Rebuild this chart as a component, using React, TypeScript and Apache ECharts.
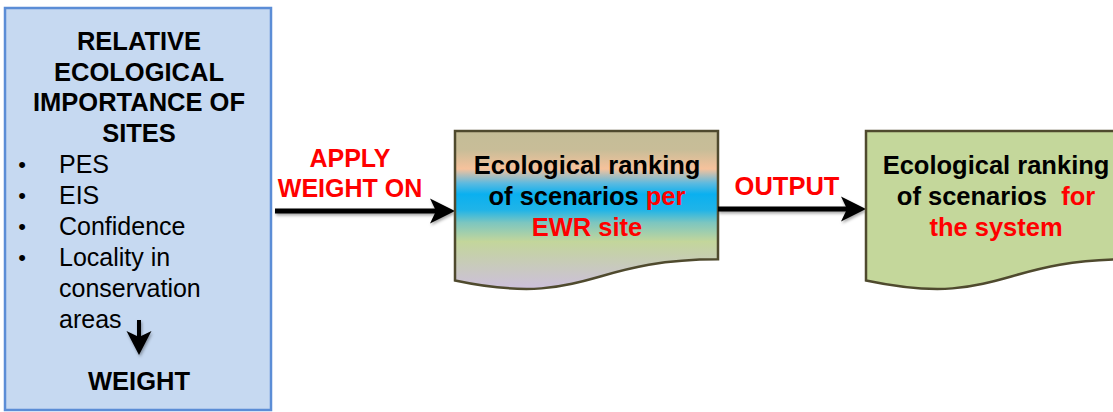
import React, { useEffect, useRef } from "react";
import * as echarts from "echarts";

// Texts of the diagram
const leftTitle = ["RELATIVE", "ECOLOGICAL", "IMPORTANCE OF", "SITES"];
const leftBullets = ["PES", "EIS", "Confidence", "Locality in"];
const leftBulletCont = ["conservation", "areas"];
const leftFooter = "WEIGHT";
const arrow1Label = ["APPLY", "WEIGHT ON"];
const arrow2Label = ["OUTPUT"];
const midBox = [
  "{k|Ecological ranking}",
  "{k|of scenarios} {r|per}",
  "{r|EWR site}",
];
const rightBox = [
  "{k|Ecological ranking}",
  "{k|of scenarios}  {r|for}",
  "{r|the system}",
];

const FONT = "'Liberation Sans', Arial, sans-serif";
const DOC_W = 263;
const DOC_H = 160;
// PowerPoint flowchart "document" shape
const docD = `M0,0 L${DOC_W},0 L${DOC_W},${DOC_H * 0.802} C${DOC_W / 2},${DOC_H * 0.802} ${DOC_W / 2},${DOC_H * 1.107} 0,${DOC_H * 0.934} Z`;

let registered = false;
function register() {
  if (registered) return;
  registered = true;
  echarts.graphic.registerShape("docShape", echarts.graphic.extendPath(docD, {}) as any);
}

const shadow = { shadowBlur: 3, shadowColor: "rgba(0,0,0,0.35)", shadowOffsetX: 1, shadowOffsetY: 2 };

function arrowRight(x1: number, x2: number, y: number): any[] {
  return [
    { type: "rect", shape: { x: x1, y: y - 2.5, width: x2 - 16 - x1, height: 5 }, style: { fill: "#000", ...shadow } },
    {
      type: "polygon",
      shape: { points: [[x2 - 25, y - 12.5], [x2, y], [x2 - 25, y + 12.5], [x2 - 19, y]] },
      style: { fill: "#000", ...shadow },
    },
  ];
}

function arrowDown(x: number, y1: number, y2: number): any[] {
  return [
    { type: "rect", shape: { x: x - 2, y: y1, width: 4, height: y2 - 14 - y1 }, style: { fill: "#000", ...shadow } },
    {
      type: "polygon",
      shape: { points: [[x - 12.5, y2 - 24], [x, y2], [x + 12.5, y2 - 24], [x, y2 - 18]] },
      style: { fill: "#000", ...shadow },
    },
  ];
}

function txt(text: string, x: number, y: number, opts: any = {}): any {
  return {
    type: "text",
    x,
    y,
    style: {
      text,
      fill: opts.fill || "#000",
      font: `${opts.bold ? "bold " : ""}${opts.size || 25}px ${FONT}`,
      align: opts.align || "center",
      verticalAlign: "middle",
    },
  };
}

function richTxt(text: string, x: number, y: number): any {
  const base = { fontSize: 25.5, fontWeight: "bold", fontFamily: FONT };
  return {
    type: "text",
    x,
    y,
    style: {
      text,
      font: `bold 25.5px ${FONT}`,
      align: "center",
      verticalAlign: "middle",
      rich: {
        k: { ...base, fill: "#000" },
        r: { ...base, fill: "#FF0000" },
      },
    },
  };
}

export default function App() {
  const ref = useRef<HTMLDivElement>(null);
  useEffect(() => {
    register();
    const chart = echarts.init(ref.current!, null, { renderer: "svg" });
    const elements: any[] = [];

    // Left box
    elements.push({
      type: "rect",
      shape: { x: 5, y: 8, width: 266, height: 402 },
      style: { fill: "#C6D9F1", stroke: "#5B8DD6", lineWidth: 2.5 },
    });
    leftTitle.forEach((t, i) => elements.push(txt(t, 139, 41 + i * 30.7, { bold: true, size: 25.5 })));
    leftBullets.forEach((t, i) => {
      elements.push(txt("•", 22, 164 + i * 31, { size: 22 }));
      elements.push(txt(t, 59, 164 + i * 31, { align: "left", size: 25 }));
    });
    leftBulletCont.forEach((t, i) => elements.push(txt(t, 59, 164 + (4 + i) * 31, { align: "left", size: 25 })));
    elements.push(...arrowDown(139, 320, 355));
    elements.push(txt(leftFooter, 139, 381, { bold: true, size: 25.5 }));

    // Arrow 1
    elements.push(...arrowRight(275, 455, 211));
    arrow1Label.forEach((t, i) => elements.push(txt(t, 350, 158 + i * 30, { bold: true, fill: "#FF0000", size: 25 })));

    // Middle document
    elements.push({
      type: "docShape",
      x: 455,
      y: 131,
      style: {
        fill: new echarts.graphic.LinearGradient(0, 0, 0, 1, [
          { offset: 0, color: "#C4BD97" },
          { offset: 0.12, color: "#C8BD98" },
          { offset: 0.24, color: "#F6C29C" },
          { offset: 0.33, color: "#5DBAE0" },
          { offset: 0.4, color: "#0AB0F0" },
          { offset: 0.5, color: "#20B4E8" },
          { offset: 0.58, color: "#7CC6C0" },
          { offset: 0.7, color: "#C3D69B" },
          { offset: 1, color: "#CDBFDC" },
        ]),
        stroke: "#4F4A2E",
        lineWidth: 2.5,
      },
    });
    midBox.forEach((t, i) => elements.push(richTxt(t, 587, 165 + i * 31)));

    // Arrow 2
    elements.push(...arrowRight(718, 866, 209));
    arrow2Label.forEach((t) => elements.push(txt(t, 787, 186, { bold: true, fill: "#FF0000", size: 25.5 })));

    // Right document
    elements.push({
      type: "docShape",
      x: 866,
      y: 131,
      style: { fill: "#C4D79B", stroke: "#4F4A2E", lineWidth: 2.5 },
    });
    rightBox.forEach((t, i) => elements.push(richTxt(t, 996, 165 + i * 31)));

    chart.setOption({ animation: false, graphic: { elements } });
    return () => chart.dispose();
  }, []);
  return (
    <div
      ref={ref}
      style={{ position: "fixed", left: 0, top: 0, width: 1113, height: 412, background: "#fff" }}
    />
  );
}
